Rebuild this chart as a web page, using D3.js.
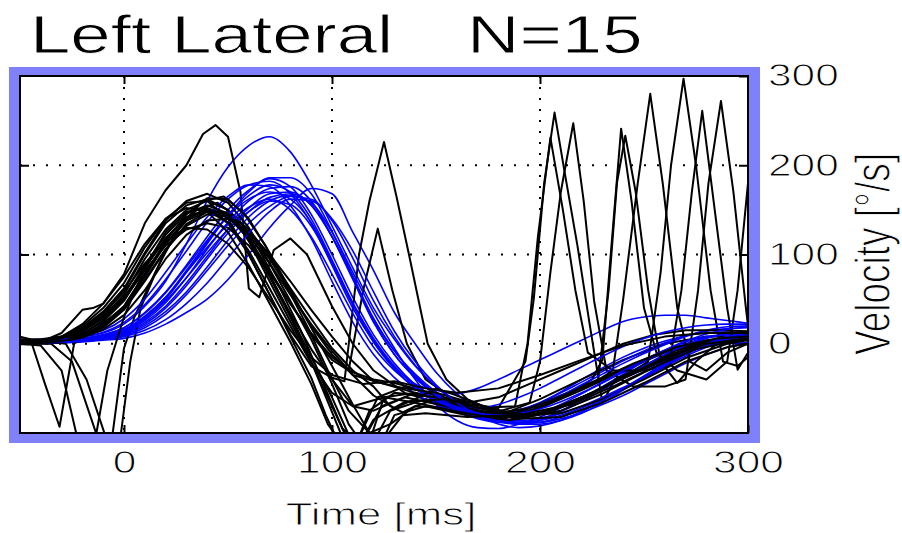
<!DOCTYPE html>
<html>
<head>
<meta charset="utf-8">
<script src="https://cdn.jsdelivr.net/npm/d3@7"></script>
<style>
  body { margin: 0; background: #fff; }
  text { font-family: "Liberation Sans", Arial, sans-serif; fill: #000; }
</style>
</head>
<body>
<div id="plot"></div>
<script>
// ---- data ----
const xTicks = [0, 100, 200, 300];
const yTicks = [0, 100, 200, 300];
const gridX = [0, 100, 200];
const gridY = [0, 100, 200];

// blue traces share one time base [ms]
const timeMs = [-50,-40,-30,-20,-10,0,10,20,30,40,50,60,70,80,90,100,110,120,130,140,150,160,170,180,190,200,210,220,230,240,250,260,270,280,290,300];

const blue01 = [2,3,5,8,12,22,42,70,112,160,198,222,232,215,178,132,85,40,5,-25,-48,-64,-74,-78,-75,-66,-54,-40,-27,-15,-5,3,9,12,13,12];
const blue02 = [0,0,1,2,4,6,12,22,35,50,72,100,130,155,174,168,125,82,35,0,-32,-56,-74,-86,-90,-86,-76,-62,-48,-34,-20,-8,2,8,10,10];
const blue03 = [2,3,4,6,10,18,35,58,88,120,150,172,185,176,145,100,52,10,-22,-46,-63,-75,-83,-86,-84,-78,-68,-56,-44,-32,-20,-9,0,7,11,13];
const blue04 = [1,2,3,4,6,11,22,40,65,95,124,148,164,168,156,120,74,25,-12,-38,-57,-71,-80,-85,-88,-88,-84,-77,-68,-58,-46,-34,-22,-12,-4,2];
const blue05 = [4,5,6,9,15,28,50,80,112,142,165,178,176,155,118,70,24,-12,-38,-56,-68,-76,-80,-79,-74,-66,-55,-43,-31,-19,-8,1,9,14,17,18];
const blue06 = [3,3,4,5,8,14,28,48,74,102,128,148,160,156,132,90,44,4,-26,-45,-52,-56,-50,-40,-29,-18,-7,4,15,25,30,32,32,29,26,23];
const blue07 = [2,2,3,4,6,10,20,36,58,86,116,142,160,166,158,125,80,35,-5,-40,-68,-86,-94,-95,-90,-82,-72,-60,-50,-39,-29,-19,-10,-3,0,1];
const blue08 = [2,2,3,4,7,12,24,42,68,98,128,152,168,170,155,120,74,28,-8,-34,-54,-68,-78,-84,-86,-84,-78,-70,-60,-49,-38,-26,-14,-4,4,8];
const blue09 = [3,4,5,8,13,24,44,72,104,136,162,178,182,168,135,88,40,2,-28,-50,-64,-76,-84,-88,-88,-84,-76,-65,-52,-38,-25,-12,-2,6,11,14];
const blue10 = [1,1,2,3,5,9,18,33,55,82,110,135,154,165,162,138,96,48,8,-24,-48,-66,-78,-86,-90,-90,-86,-78,-66,-52,-38,-24,-11,-1,6,10];
const blue11 = [2,3,3,5,8,15,30,52,82,114,144,166,178,170,140,94,46,6,-25,-47,-63,-74,-80,-80,-76,-68,-58,-46,-34,-22,-11,-1,8,15,19,20];
const blue12 = [4,4,5,6,10,18,34,57,86,116,143,162,170,162,136,92,44,2,-28,-50,-64,-70,-72,-68,-60,-50,-38,-26,-14,-3,6,13,18,21,22,22];
const blue13 = [2,2,3,5,8,14,28,50,80,112,144,170,186,186,168,126,76,28,-8,-36,-56,-70,-80,-86,-88,-86,-80,-72,-62,-50,-37,-23,-10,0,8,12];
const blue14 = [3,4,5,6,9,16,31,52,80,108,134,153,162,150,120,78,34,-4,-30,-48,-62,-72,-78,-80,-78,-73,-65,-55,-43,-30,-18,-7,3,11,16,19];
const blue15 = [2,2,3,4,7,13,26,46,74,106,136,160,174,176,160,120,72,24,-12,-38,-58,-72,-82,-88,-90,-88,-82,-74,-63,-51,-38,-25,-12,-2,5,9];
const blue16 = [1,2,2,3,5,8,15,27,45,68,96,124,148,162,160,140,104,58,14,-20,-46,-66,-80,-90,-94,-92,-86,-76,-64,-50,-36,-22,-10,-1,6,10];

// black traces: [time ms, velocity deg/s] pairs (saccades need finer steps)
const black01 = [[-50,0],[-40,2],[-30,12],[-20,38],[-15,40],[-10,45],[0,78],[10,135],[20,172],[30,200],[38,235],[44,245],[50,232],[56,170],[60,62],[65,52],[72,105],[80,118],[88,100],[100,42],[110,0],[120,-30],[135,-55],[150,-66],[170,-76],[185,-76],[200,-62],[220,-40],[240,-18],[260,0],[280,8],[300,8]];
const black02 = [[-50,8],[-45,5],[-38,-45],[-31,-93],[-24,0],[-15,15],[0,40],[10,75],[20,112],[30,140],[40,152],[50,145],[60,118],[70,75],[80,30],[90,-20],[100,-70],[108,-110],[118,-110],[125,-60],[140,-55],[160,-70],[180,-82],[200,-72],[220,-52],[240,-30],[260,-10],[280,2],[300,6]];
const black03 = [[-50,0],[-35,0],[-25,-20],[-12,-110],[-6,-110],[0,-5],[5,30],[15,80],[25,125],[35,150],[45,158],[55,140],[65,105],[75,62],[85,15],[95,-40],[105,-95],[112,-110],[120,-110],[128,-75],[145,-62],[165,-75],[185,-85],[205,-75],[225,-55],[245,-30],[265,-8],[285,5],[300,8]];
const black04 = [[-50,2],[-40,3],[-28,0],[-18,-40],[-8,-110],[-2,-110],[3,-20],[8,40],[18,95],[28,135],[38,160],[48,165],[58,145],[68,110],[78,65],[88,20],[98,-30],[108,-75],[118,-100],[128,-90],[140,-70],[160,-72],[180,-78],[200,-70],[220,-50],[240,-28],[260,-8],[280,4],[300,8]];
const black05 = [[-50,2],[-40,3],[-30,5],[-20,12],[-10,25],[0,48],[10,85],[20,118],[30,142],[40,150],[50,135],[60,100],[70,55],[80,10],[90,-25],[100,-38],[106,-42],[113,100],[118,160],[125,226],[131,165],[137,100],[146,0],[155,-40],[165,-62],[180,-78],[195,-72],[210,-58],[225,-45],[235,-30],[240,50],[247,180],[253,280],[259,180],[266,40],[272,-20],[280,-30],[290,-10],[300,0]];
const black06 = [[-50,0],[-40,1],[-30,4],[-20,10],[-10,22],[0,42],[10,78],[20,112],[30,138],[40,148],[50,142],[60,118],[70,82],[80,45],[90,10],[100,-18],[108,-30],[115,60],[122,129],[129,60],[136,0],[145,-40],[160,-65],[175,-80],[190,-80],[205,-66],[220,-48],[228,-40],[233,60],[237,180],[241,233],[246,170],[252,60],[258,-20],[266,-44],[275,-20],[285,0],[300,5]];
const black07 = [[-50,4],[-40,4],[-30,6],[-20,14],[-10,30],[0,55],[10,95],[20,128],[30,150],[40,160],[50,150],[60,120],[70,78],[80,32],[90,-15],[100,-60],[108,-102],[116,-104],[124,-70],[140,-55],[160,-66],[180,-72],[193,-20],[197,50],[202,180],[207,259],[212,190],[218,110],[224,20],[230,-66],[236,-40],[245,-30],[252,-20],[258,80],[263,200],[269,297],[275,200],[282,60],[288,-20],[295,-25],[300,-15]];
const black08 = [[-50,0],[-40,2],[-30,3],[-20,8],[-10,18],[0,38],[10,70],[20,105],[30,132],[40,145],[50,142],[60,125],[70,95],[80,58],[90,20],[100,-12],[110,-35],[125,-45],[140,-55],[160,-68],[180,-76],[195,-66],[200,-20],[205,80],[210,170],[216,247],[221,160],[226,48],[232,-30],[245,-48],[260,-48],[270,-40],[276,60],[281,180],[287,272],[293,170],[299,40],[300,20]];
const black09 = [[-50,3],[-40,3],[-30,6],[-20,15],[-10,32],[0,60],[10,100],[20,135],[30,155],[40,162],[50,150],[60,115],[70,70],[80,25],[90,-20],[98,-65],[105,-105],[113,-105],[122,-60],[135,-48],[150,-58],[170,-72],[188,-70],[194,0],[199,120],[205,231],[211,150],[217,60],[223,-10],[235,-30],[250,-30],[262,-25],[268,60],[273,170],[278,261],[284,150],[290,40],[295,-29],[300,-10]];
const black10 = [[-50,1],[-40,2],[-30,4],[-20,11],[-10,26],[0,50],[10,88],[20,122],[30,146],[40,155],[50,146],[60,116],[70,76],[80,34],[90,-6],[100,-40],[110,-70],[120,-75],[135,-60],[155,-70],[175,-82],[195,-78],[215,-55],[225,-40],[230,-18],[234,100],[239,241],[244,160],[250,40],[256,-10],[266,-30],[280,-40],[290,-20],[295,60],[300,180]];
const black11 = [[-50,2],[-40,3],[-30,6],[-20,14],[-10,28],[0,50],[10,82],[20,110],[30,128],[40,135],[50,130],[60,110],[70,80],[80,45],[90,12],[100,-15],[110,-32],[120,-40],[130,-44],[140,-50],[150,-58],[165,-66],[180,-60],[195,-45],[210,-30],[225,-15],[240,0],[255,10],[270,15],[285,15],[300,14]];
const black12 = [[-50,3],[-40,4],[-30,8],[-20,18],[-10,36],[0,62],[10,102],[20,138],[30,160],[40,168],[50,158],[60,130],[70,90],[80,48],[90,5],[100,-45],[108,-90],[114,-110],[124,-110],[130,-80],[145,-70],[165,-80],[185,-86],[205,-76],[225,-56],[245,-32],[265,-10],[285,4],[300,10]];
const black13 = [[-50,0],[-40,1],[-30,3],[-20,9],[-10,20],[0,40],[10,72],[20,106],[30,134],[40,148],[50,146],[60,128],[70,98],[80,62],[90,28],[100,-5],[110,-30],[120,-48],[128,-70],[134,-77],[140,-70],[150,-62],[170,-75],[190,-84],[210,-75],[230,-56],[250,-32],[270,-10],[285,2],[300,6]];
const black14 = [[-50,5],[-40,5],[-30,8],[-20,20],[-10,40],[0,68],[10,108],[20,140],[30,158],[40,160],[50,140],[60,100],[70,55],[80,8],[90,-38],[97,-80],[103,-110],[112,-110],[118,-75],[130,-55],[150,-60],[170,-72],[190,-80],[210,-70],[230,-50],[250,-28],[270,-8],[290,6],[300,10]];
const black15 = [[-50,0],[-40,1],[-30,2],[-20,7],[-10,16],[0,32],[10,60],[20,95],[30,122],[40,138],[50,140],[60,126],[70,100],[80,70],[90,38],[100,8],[110,-20],[120,-42],[135,-50],[150,-55],[170,-68],[190,-80],[210,-78],[230,-62],[250,-40],[270,-16],[290,0],[300,4]];
const black16 = [[-50,2],[-40,3],[-30,8],[-20,22],[-10,45],[0,75],[10,112],[20,140],[30,152],[40,148],[50,125],[60,88],[70,45],[80,2],[90,-45],[98,-90],[104,-110],[114,-110],[120,-85],[135,-65],[155,-62],[175,-74],[195,-80],[215,-68],[235,-48],[255,-26],[275,-6],[300,6]];
const black17 = [[-50,0],[-40,2],[-30,6],[-20,16],[-10,34],[0,58],[10,90],[20,115],[30,130],[40,128],[50,112],[60,85],[70,50],[80,15],[90,-15],[100,-35],[115,-45],[130,-42],[145,-50],[160,-55],[180,-50],[200,-35],[220,-18],[240,-2],[260,8],[280,12],[300,12]];
const black18 = [[-50,1],[-40,1],[-30,3],[-20,8],[-10,20],[0,42],[10,78],[20,115],[30,145],[40,163],[50,162],[60,140],[70,102],[80,60],[90,18],[100,-25],[110,-68],[118,-100],[126,-104],[134,-80],[145,-78],[165,-82],[185,-80],[205,-64],[225,-44],[245,-22],[265,-4],[285,6],[300,8]];
const black19 = [[-50,0],[-40,-2],[-30,-30],[-22,-110],[-14,-110],[-8,-30],[0,30],[10,85],[20,125],[30,148],[40,152],[50,136],[60,104],[70,62],[80,20],[90,-22],[100,-55],[110,-70],[125,-60],[140,-66],[160,-76],[180,-84],[200,-78],[220,-60],[240,-38],[260,-16],[280,0],[300,6]];
const black20 = [[-50,3],[-40,4],[-30,7],[-20,16],[-10,30],[0,52],[10,85],[20,118],[30,140],[40,150],[50,144],[60,122],[70,90],[80,55],[90,22],[100,-8],[110,-35],[120,-58],[130,-72],[140,-62],[150,-50],[160,-58],[175,-72],[190,-84],[210,-82],[230,-66],[250,-44],[270,-20],[290,-4],[300,0]];

const blueTrials = [blue01, blue02, blue03, blue04, blue05, blue06, blue07, blue08, blue09, blue10, blue11, blue12, blue13, blue14, blue15, blue16];
const blackTrials = [black01, black02, black03, black04, black05, black06, black07, black08, black09, black10, black11, black12, black13, black14, black15, black16, black17, black18, black19, black20];

// ---- layout ----
const w = 902;
const h = 533;
const plot = {left: 20, right: 748, top: 76, bottom: 433};
const sx = 1.37;   // picture is stretched sideways, text too

const svg = d3.select("div#plot")
    .append("svg")
    .attr("width", w)
    .attr("height", h);

const x = d3.scaleLinear().domain([-50, 300]).range([plot.left, plot.right]);
const y = d3.scaleLinear().domain([-100, 300]).range([plot.bottom, plot.top]);

// blue surround + white axes box
svg.append("rect")
    .attr("x", 9).attr("y", 67)
    .attr("width", 751).attr("height", 376)
    .attr("fill", "#8080fa");

svg.append("rect")
    .attr("x", plot.left).attr("y", plot.top)
    .attr("width", plot.right - plot.left)
    .attr("height", plot.bottom - plot.top)
    .attr("fill", "#fff");

svg.append("clipPath").attr("id", "clip")
  .append("rect")
    .attr("x", plot.left).attr("y", plot.top)
    .attr("width", plot.right - plot.left)
    .attr("height", plot.bottom - plot.top);

// dotted grid
svg.append("g").selectAll("line")
    .data(gridX)
  .enter().append("line")
    .attr("x1", d => x(d)).attr("x2", d => x(d))
    .attr("y1", plot.top).attr("y2", plot.bottom)
    .attr("stroke", "#000")
    .attr("stroke-width", 2)
    .attr("stroke-dasharray", "2,9");

svg.append("g").selectAll("line")
    .data(gridY)
  .enter().append("line")
    .attr("x1", plot.left).attr("x2", plot.right)
    .attr("y1", d => y(d)).attr("y2", d => y(d))
    .attr("stroke", "#000")
    .attr("stroke-width", 2)
    .attr("stroke-dasharray", "2,11");

// traces
const blueLine = d3.line()
    .x((d, i) => x(timeMs[i]))
    .y(d => y(d))
    .curve(d3.curveMonotoneX);

const blackLine = d3.line()
    .x(d => x(d[0]))
    .y(d => y(d[1]));

const traces = svg.append("g").attr("clip-path", "url(#clip)");

const nDraw = Math.max(blueTrials.length, blackTrials.length);
for (let i = 0; i < nDraw; i++) {
  if (blueTrials[i]) {
    traces.append("path")
        .attr("d", blueLine(blueTrials[i]))
        .attr("fill", "none")
        .attr("stroke", "#0000ff")
        .attr("stroke-width", 1.6);
  }
  if (blackTrials[i]) {
    traces.append("path")
        .attr("d", blackLine(blackTrials[i]))
        .attr("fill", "none")
        .attr("stroke", "#000")
        .attr("stroke-width", 2)
        .attr("stroke-linejoin", "round");
  }
}

// frame
svg.append("rect")
    .attr("x", plot.left).attr("y", plot.top)
    .attr("width", plot.right - plot.left)
    .attr("height", plot.bottom - plot.top)
    .attr("fill", "none")
    .attr("stroke", "#000")
    .attr("stroke-width", 2);

// axes (ticks inside, like matlab)
const xAxis = svg.append("g")
    .attr("transform", `translate(0, ${plot.bottom})`)
    .call(d3.axisBottom(x).tickValues(xTicks).tickSizeInner(-8).tickSizeOuter(0).tickPadding(18));

const yAxis = svg.append("g")
    .attr("transform", `translate(${plot.right}, 0)`)
    .call(d3.axisRight(y).tickValues(yTicks).tickSizeInner(-9).tickSizeOuter(0).tickPadding(20));

svg.append("g")
    .attr("transform", `translate(${plot.left}, 0)`)
    .call(d3.axisLeft(y).tickValues(gridY).tickSizeInner(-9).tickSizeOuter(0).tickFormat(""));

svg.append("g")
    .attr("transform", `translate(0, ${plot.top})`)
    .call(d3.axisTop(x).tickValues(gridX).tickSizeInner(-8).tickSizeOuter(0).tickFormat(""));

svg.selectAll(".domain").remove();
svg.selectAll(".tick line").attr("stroke", "#000").attr("stroke-width", 2);

// thin the stretched glyphs a little with a white outline
function thin(sel, wd) {
  sel.attr("stroke", "#fff").attr("stroke-width", wd).attr("paint-order", "normal");
}

xAxis.selectAll("text")
    .attr("font-size", 31)
    .attr("font-family", "Liberation Sans, Arial, sans-serif")
    .attr("fill", "#222")
    .attr("transform", `scale(${sx},1)`)
    .call(thin, 0.9);

yAxis.selectAll("text")
    .attr("font-size", 31)
    .attr("font-family", "Liberation Sans, Arial, sans-serif")
    .attr("fill", "#222")
    .attr("x", 20 / sx)
    .attr("transform", `scale(${sx},1)`)
    .call(thin, 0.9);

// titles and labels
svg.append("text")
    .attr("transform", `translate(30, 53) scale(${sx},1)`)
    .attr("font-size", 53)
    .text("Left Lateral")
    .call(thin, 0.8);

svg.append("text")
    .attr("transform", `translate(467, 53) scale(${sx},1)`)
    .attr("font-size", 53)
    .text("N=15")
    .call(thin, 0.8);

svg.append("text")
    .attr("transform", `translate(381, 525) scale(${sx},1)`)
    .attr("text-anchor", "middle")
    .attr("font-size", 32)
    .attr("fill", "#222")
    .text("Time [ms]")
    .call(thin, 0.9);

svg.append("text")
    .attr("transform", `translate(890, 254) scale(${sx},1) rotate(-90)`)
    .attr("text-anchor", "middle")
    .attr("font-size", 37)
    .attr("fill", "#222")
    .text("Velocity [°/s]")
    .call(thin, 0.9);
</script>
</body>
</html>
